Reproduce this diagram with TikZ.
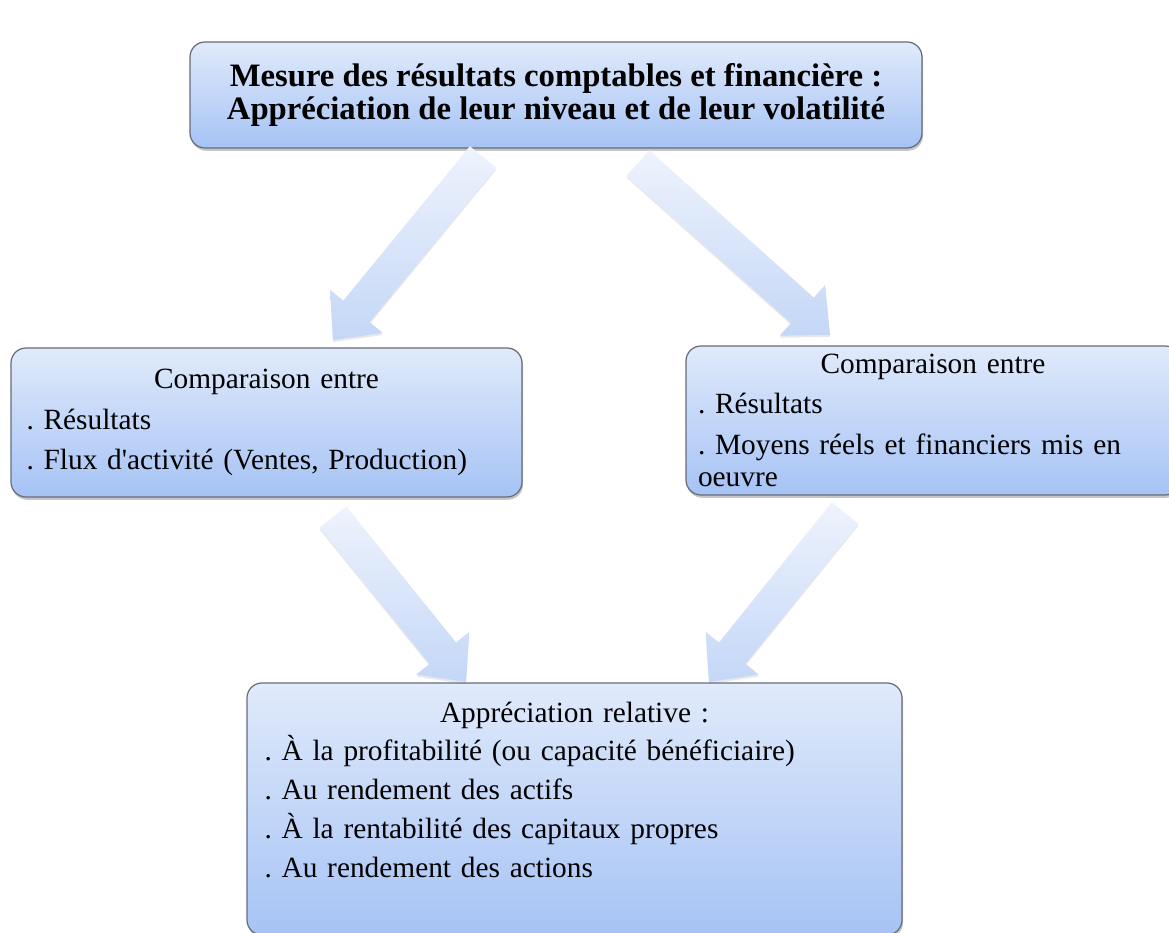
\documentclass[tikz,border=0pt]{standalone}
\usepackage{fontspec}
\setmainfont{Liberation Serif}
\usetikzlibrary{calc,shadows}

\definecolor{boxtop}{HTML}{E0EAFB}
\definecolor{boxbottom}{HTML}{A6C3F5}
\definecolor{boxline}{HTML}{666C78}
\definecolor{arrowtail}{HTML}{EEF3FD}
\definecolor{arrowhead}{HTML}{C4D7F7}

\newcommand{\boxfont}{\fontsize{16.7}{18.5}\selectfont}

\tikzset{
    resbox/.style={draw=boxline, line width=0.7pt, rounded corners=0.3cm,
        top color=boxtop, bottom color=boxbottom,
        drop shadow={shadow xshift=0.6pt, shadow yshift=-1.6pt, opacity=0.45},
        font=\boxfont, align=left, inner ysep=2pt,
        execute at begin node={\frenchspacing\raggedright
            \setlength\parindent{0pt}\setlength\parskip{4.5pt}}},
    fatarrow/.style={top color=arrowtail, bottom color=arrowhead,
        drop shadow={shadow xshift=0pt, shadow yshift=-1.2pt, opacity=0.18}}
}

% tail, tip
\newcommand{\blockarrow}[2]{
    \coordinate (#1-#2) at ($(#2)!0.74cm!(#1)$);
    \path[fatarrow] ($(#1)!0.34cm!90:(#2)$) -- ($(#1-#2)!0.34cm!90:(#2)$)
        -- ($(#1-#2)!0.68cm!90:(#2)$) -- (#2) -- ($(#1-#2)!0.68cm!-90:(#2)$)
        -- ($(#1-#2)!0.34cm!-90:(#2)$) -- ($(#1)!0.34cm!-90:(#2)$) -- cycle;
}

\begin{document}
\begin{tikzpicture}
        \useasboundingbox (0,0) rectangle (23.38,18.66);

        % Draw boxes
        \node[resbox, align=center, minimum width=14.64cm, minimum height=2.12cm,
            font=\fontsize{18.6}{19.2}\selectfont\bfseries] (mesure) at (11.12,16.76)
            {Mesure des résultats comptables et financière :\\Appréciation de leur niveau et de leur volatilité};
        \node[resbox, minimum width=10.22cm, minimum height=2.98cm, text width=9.6cm,
            inner xsep=0.31cm] (activite) at (5.33,10.21)
            {{\centering Comparaison entre\par}. Résultats\par. Flux d\textquotesingle activité (Ventes, Production)};
        \node[resbox, minimum width=9.88cm, minimum height=2.98cm, text width=9.4cm,
            inner xsep=0.24cm] (moyens) at (18.66,10.25)
            {{\centering Comparaison entre\par}. Résultats\par. Moyens réels et financiers mis en\hfill\break oeuvre};
        \node[resbox, minimum width=13.1cm, minimum height=5.04cm, text width=12.4cm,
            inner xsep=0.35cm, execute at begin node={\setlength\parskip{3.6pt}}] (relative) at (11.49,2.48)
            {{\centering Appréciation relative :\par}. À la profitabilité (ou capacité bénéficiaire)\par
            . Au rendement des actifs\par. À la rentabilité des capitaux propres\par
            . Au rendement des actions\par\mbox{}};

        % Draw arrows
        \coordinate (t1) at (9.66,15.52);  \coordinate (p1) at (6.66,11.86);
        \coordinate (t2) at (12.76,15.40); \coordinate (p2) at (16.60,11.96);
        \coordinate (t3) at (6.66,8.32);   \coordinate (p3) at (9.32,5.02);
        \coordinate (t4) at (16.90,8.40);  \coordinate (p4) at (14.18,5.02);
        \blockarrow{t1}{p1}
        \blockarrow{t2}{p2}
        \blockarrow{t3}{p3}
        \blockarrow{t4}{p4}

    \end{tikzpicture}
\end{document}
